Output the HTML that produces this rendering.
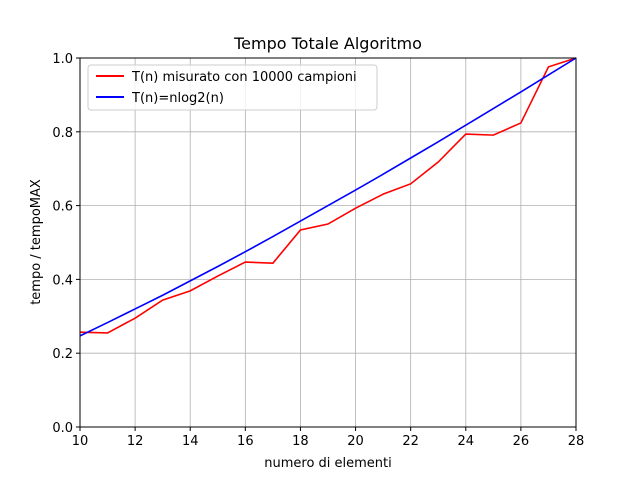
<!DOCTYPE html>
<html><head><meta charset="utf-8"><style>
body{margin:0;background:#fff}
svg{font-family:"DejaVu Sans","Liberation Sans",sans-serif}
</style></head><body>
<svg id="chart" width="640" height="480" xmlns="http://www.w3.org/2000/svg">
<rect width="640" height="480" fill="#fff"/>
<text x="328" y="49" text-anchor="middle" font-size="16">Tempo Totale Algoritmo</text>
<g id="grid"></g><g id="series"></g><g id="axes"></g>
<text x="328" y="467" text-anchor="middle" font-size="13">numero di elementi</text>
<text transform="translate(40,242) rotate(-90)" text-anchor="middle" font-size="13">tempo / tempoMAX</text>
<g>
<rect x="88" y="65" width="289" height="45" rx="3" fill="#fff" fill-opacity="0.8" stroke="#ccc"/>
<line x1="96" y1="76" x2="124" y2="76" stroke="red" stroke-width="2"/>
<text x="132" y="81" font-size="13">T(n) misurato con 10000 campioni</text>
<line x1="96" y1="97" x2="124" y2="97" stroke="blue" stroke-width="2"/>
<text x="132" y="102" font-size="13">T(n)=nlog2(n)</text>
</g>
</svg>
<script>
const nValues=[10,11,12,13,14,15,16,17,18,19,20,21,22,23,24,25,26,27,28];
const measured=[0.257,0.255,0.295,0.344,0.369,0.409,0.447,0.444,0.534,0.550,0.593,0.631,0.659,0.718,0.794,0.791,0.824,0.976,1.0];
const nlogn=[0.247,0.283,0.320,0.357,0.396,0.435,0.475,0.516,0.558,0.600,0.642,0.685,0.729,0.773,0.818,0.863,0.908,0.954,1.0];
const xTicks=[10,12,14,16,18,20,22,24,26,28];
const yTicks=[0.0,0.2,0.4,0.6,0.8,1.0];
const X0=80,X1=576,Y0=427,Y1=58;
const sx=v=>X0+(v-10)/(28-10)*(X1-X0);
const sy=v=>Y0-v*(Y0-Y1);
const NS="http://www.w3.org/2000/svg";
function mk(t,a,p){const e=document.createElementNS(NS,t);for(const k in a)e.setAttribute(k,a[k]);p.appendChild(e);return e;}
const grid=document.getElementById('grid'),axes=document.getElementById('axes'),ser=document.getElementById('series');
xTicks.forEach(t=>{const x=sx(t);
 const g=mk('line',{x1:x,x2:x,y1:Y1,y2:Y0,stroke:'#b0b0b0','stroke-width':0.8},grid);
 
 
 mk('line',{x1:x,x2:x,y1:Y0,y2:Y0+4,stroke:'#000'},axes);
 const l=mk('text',{x:x,y:Y0+18,'text-anchor':'middle','font-size':13},axes);l.textContent=t;
 
 });
yTicks.forEach(t=>{const y=sy(t);
 const g=mk('line',{x1:X0,x2:X1,y1:y,y2:y,stroke:'#b0b0b0','stroke-width':0.8},grid);
 
 
 mk('line',{x1:X0-4,x2:X0,y1:y,y2:y,stroke:'#000'},axes);
 const l=mk('text',{x:X0-7,y:y+5,'text-anchor':'end','font-size':13},axes);l.textContent=t.toFixed(1);
 
 });
const fr=mk('rect',{x:X0,y:Y1,width:X1-X0,height:Y0-Y1,fill:'none',stroke:'#000','stroke-width':1},axes);


function line(vals,color,name){const p=mk('polyline',{points:vals.map((v,i)=>sx(nValues[i])+','+sy(v)).join(' '),fill:'none',stroke:color,'stroke-width':1.6},ser);
 
 }
line(measured,'red','measured-line');
line(nlogn,'blue','nlogn-line');
</script>
</body></html>
